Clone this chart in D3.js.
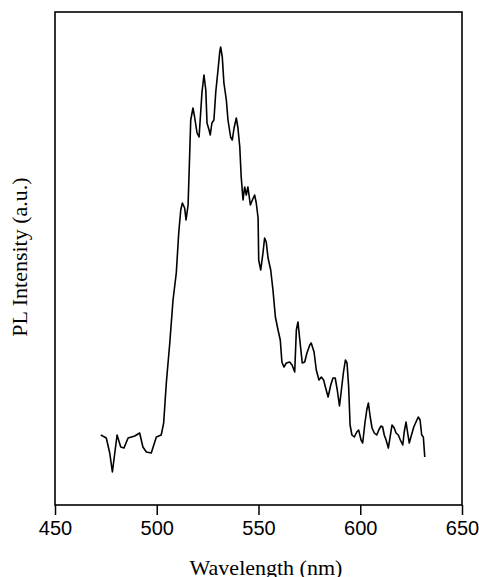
<!DOCTYPE html>
<html>
<head>
<meta charset="utf-8">
<script src="https://cdn.jsdelivr.net/npm/d3@7"></script>
<style>
  html, body { margin: 0; padding: 0; background: #fff; }
  svg { display: block; }
</style>
</head>
<body>
<main></main>
<script>
//PL spectrum with D3

// Data
const wavelength = [
  472.5, 475.2, 476.9, 478.2, 480.5, 482.3, 483.9, 485.9, 489.2, 491.6,
  493.2, 494.9, 497.3, 499.8, 502.2, 503.4, 504.7, 506.4, 508.0, 509.6,
  510.8, 511.8, 512.6, 513.7, 514.4, 515.4, 516.2, 516.7, 517.8, 518.6,
  519.8, 520.8, 521.6, 522.2, 523.2, 524.1, 524.7, 525.7, 526.3, 527.1,
  528.1, 529.0, 530.1, 530.9, 531.4, 532.2, 533.0, 534.2, 535.0, 536.3,
  537.1, 538.0, 539.1, 539.9, 540.8, 541.5, 542.4, 543.2, 544.0, 544.8,
  546.0, 547.0, 548.1, 548.9, 549.8, 550.1, 551.1, 552.2, 553.0, 553.8,
  554.7, 556.0, 557.1, 558.3, 559.6, 560.7, 561.5, 562.5, 563.7, 565.3,
  566.5, 567.8, 568.6, 569.4, 570.2, 571.5, 572.7, 573.8, 575.2, 575.9,
  577.3, 578.4, 579.7, 580.9, 582.0, 583.0, 584.2, 585.5, 586.6, 587.7,
  588.7, 589.8, 590.9, 591.7, 592.7, 593.5, 594.3, 595.0, 595.9, 597.1,
  598.3, 599.2, 600.4, 601.2, 602.3, 603.2, 604.0, 604.9, 605.8, 606.9,
  608.1, 609.1, 610.2, 611.0, 611.8, 612.7, 613.8, 614.6, 615.6, 616.7,
  617.6, 618.7, 619.7, 620.9, 621.6, 622.5, 623.3, 624.1, 624.9, 626.3,
  627.4, 628.5, 629.4, 630.2, 631.0, 631.7
];
const intensity = [
  70, 67, 52, 33, 70, 58, 57, 67, 69, 72,
  58, 53, 52, 68, 70, 82, 122, 162, 205, 232,
  272, 295, 302, 297, 285, 300, 352, 385, 397, 388,
  372, 368, 393, 412, 430, 415, 382, 375, 370, 382,
  385, 413, 435, 452, 458, 448, 422, 405, 385, 368,
  365, 377, 387, 377, 358, 328, 305, 318, 310, 318,
  300, 305, 310, 302, 287, 245, 235, 252, 267, 263,
  247, 235, 215, 188, 175, 165, 143, 138, 142, 143,
  140, 133, 175, 183, 167, 142, 143, 152, 160, 162,
  153, 135, 125, 128, 125, 117, 108, 120, 127, 127,
  115, 99, 118, 132, 145, 142, 118, 80, 70, 68,
  73, 75, 65, 62, 82, 95, 102, 88, 77, 72,
  70, 75, 79, 78, 70, 65, 57, 67, 80, 77,
  72, 70, 65, 60, 73, 83, 72, 62, 68, 78,
  83, 88, 85, 70, 68, 48
];
const xTicks = [450, 500, 550, 600, 650];

const dataset = wavelength.map((w, i) => ({ w: w, v: intensity[i] }));

//Plot parameters
const w = 479;
const h = 577;
const padLeft = 55, padRight = 462, padTop = 12, padBottom = 505;

const svg = d3.select("main")
              .append("svg")
              .attr("width", w)
              .attr("height", h);

//Scale
const xScale = d3.scaleLinear()
                 .domain([450, 650])
                 .range([padLeft, padRight]);

const yScale = d3.scaleLinear()
                 .domain([0, 493])
                 .range([padBottom, padTop]);

//Axis
const x_axis = d3.axisBottom(xScale)
                 .tickValues(xTicks)
                 .tickFormat(d3.format("d"))
                 .tickSize(10)
                 .tickSizeOuter(0)
                 .tickPadding(6);

const gx = svg.append("g")
   .attr("transform", "translate(0," + padBottom + ")")
   .call(x_axis);
gx.select(".domain").remove();
gx.selectAll(".tick line").attr("stroke", "#000").attr("stroke-width", 1.5);
gx.selectAll(".tick text")
  .attr("fill", "#000")
  .style("font-family", "'Liberation Sans', Arial, sans-serif")
  .style("font-size", "20px");

//Frame
svg.append("rect")
   .attr("x", padLeft)
   .attr("y", padTop)
   .attr("width", padRight - padLeft)
   .attr("height", padBottom - padTop)
   .attr("fill", "none")
   .attr("stroke", "#000")
   .attr("stroke-width", 1.6);

//Line
const line = d3.line()
               .x(d => xScale(d.w))
               .y(d => yScale(d.v));

svg.append("path")
   .datum(dataset)
   .attr("d", line)
   .attr("fill", "none")
   .attr("stroke", "#000")
   .attr("stroke-width", 1.6)
   .attr("stroke-linejoin", "round");

//Axis labels
svg.append("text")
   .attr("text-anchor", "middle")
   .attr("x", 266)
   .attr("y", 575)
   .style("font-family", "'Liberation Serif', 'Times New Roman', serif")
   .style("font-size", "22px")
   .text("Wavelength (nm)");

svg.append("text")
   .attr("text-anchor", "middle")
   .attr("transform", "translate(27,257) rotate(-90)")
   .style("font-family", "'Liberation Serif', 'Times New Roman', serif")
   .style("font-size", "22px")
   .text("PL Intensity (a.u.)");
</script>
</body>
</html>
